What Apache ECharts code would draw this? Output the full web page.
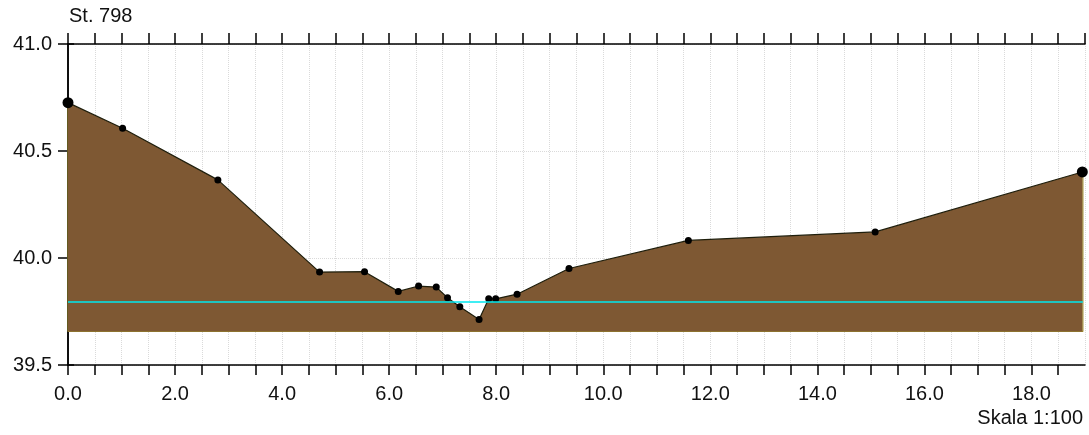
<!DOCTYPE html>
<html>
<head>
<meta charset="utf-8">
<script src="https://cdn.jsdelivr.net/npm/echarts@6/dist/echarts.min.js"></script>
<style>
  html, body { margin: 0; padding: 0; background: #fff; }
  #profil { width: 1089px; height: 435px; }
</style>
</head>
<body>
<div id="profil"></div>
<script>
// station offset (m) and bed level (m)
const avstand = [0, 1.02, 2.80, 4.70, 5.54, 6.17, 6.55, 6.88, 7.09, 7.32, 7.68, 7.86, 7.99, 8.39, 9.36, 11.59, 15.08, 18.95];
const niva = [40.726, 40.606, 40.365, 39.934, 39.936, 39.844, 39.869, 39.864, 39.814, 39.772, 39.713, 39.810, 39.809, 39.831, 39.951, 40.082, 40.122, 40.402];
const vannstand = 39.794;
const bunn = 39.657;
const xSlutt = 18.96;
const stasjon = 'St. 798';
const skala = 'Skala 1:100';

var myChart = echarts.init(document.getElementById('profil'));
var font = 'Liberation Sans, Arial, sans-serif';

const profil = avstand.map(function (x, i) {
	var ende = (i === 0 || i === avstand.length - 1);
	return { value: [x, niva[i]], symbolSize: ende ? 11 : 7 };
});
const ramme = [[0, niva[0]], [0, bunn], [xSlutt, bunn], [xSlutt, niva[niva.length - 1]]];

function tallX(v) {
	return (Math.abs(v / 2 - Math.round(v / 2)) < 1e-6) ? v.toFixed(1) : '';
}

var akseLinje = { show: true, lineStyle: { color: '#000', width: 1.5 } };

myChart.setOption({
	backgroundColor: '#fff',
	animation: false,
	title: [{
		text: stasjon,
		left: 69,
		top: 6,
		padding: 0,
		textStyle: { fontFamily: font, fontSize: 20, fontWeight: 'normal', color: '#111' }
	}, {
		text: skala,
		right: 6,
		top: 408,
		padding: 0,
		textStyle: { fontFamily: font, fontSize: 20, fontWeight: 'normal', color: '#111' }
	}],
	grid: { left: 68, right: 4, top: 44, bottom: 70 },
	xAxis: [{
		type: 'value',
		min: 0, max: 19, interval: 0.5,
		position: 'bottom',
		axisLine: akseLinje,
		axisTick: { show: true, inside: false, length: 10, lineStyle: { color: '#000', width: 1.5 } },
		axisLabel: { formatter: tallX, margin: 19, fontFamily: font, fontSize: 20, color: '#111', showMaxLabel: false },
		splitLine: { show: true, lineStyle: { color: '#dadada', type: 'dotted', width: 1 } }
	}, {
		type: 'value',
		min: 0, max: 19, interval: 0.5,
		position: 'top',
		axisLine: akseLinje,
		axisTick: { show: true, inside: false, length: 11, lineStyle: { color: '#000', width: 1.5 } },
		axisLabel: { show: false },
		splitLine: { show: false }
	}],
	yAxis: [{
		type: 'value',
		min: 39.5, max: 41.0, interval: 0.5,
		position: 'left',
		axisLine: akseLinje,
		axisTick: { show: true, inside: false, length: 10, lineStyle: { color: '#000', width: 1.5 } },
		axisLabel: { formatter: function (v) { return v.toFixed(1); }, margin: 16, fontFamily: font, fontSize: 20, color: '#111' },
		splitLine: { show: true, lineStyle: { color: '#dadada', type: 'dotted', width: 1 } }
	}, {
		type: 'value',
		min: 39.5, max: 41.0, interval: 0.5,
		position: 'right',
		axisLine: akseLinje,
		axisTick: { show: true, inside: false, length: 6, lineStyle: { color: '#000', width: 1.5 } },
		axisLabel: { show: false },
		splitLine: { show: false }
	}],
	series: [{
		name: 'ramme',
		type: 'line',
		data: ramme,
		symbol: 'none',
		z: 3,
		lineStyle: { color: '#9c8c2c', width: 1.2 },
		silent: true
	}, {
		name: 'vannstand',
		type: 'line',
		data: [[0, vannstand], [xSlutt, vannstand]],
		symbol: 'none',
		z: 5,
		lineStyle: { color: '#00e8f0', width: 1.5 },
		silent: true
	}, {
		name: 'profil',
		type: 'line',
		data: profil,
		symbol: 'circle',
		z: 4,
		itemStyle: { color: '#000' },
		lineStyle: { color: '#1e1e0c', width: 1.2 },
		areaStyle: { color: '#7e5833', opacity: 1, origin: bunn },
		silent: true
	}]
});
</script>
</body>
</html>
